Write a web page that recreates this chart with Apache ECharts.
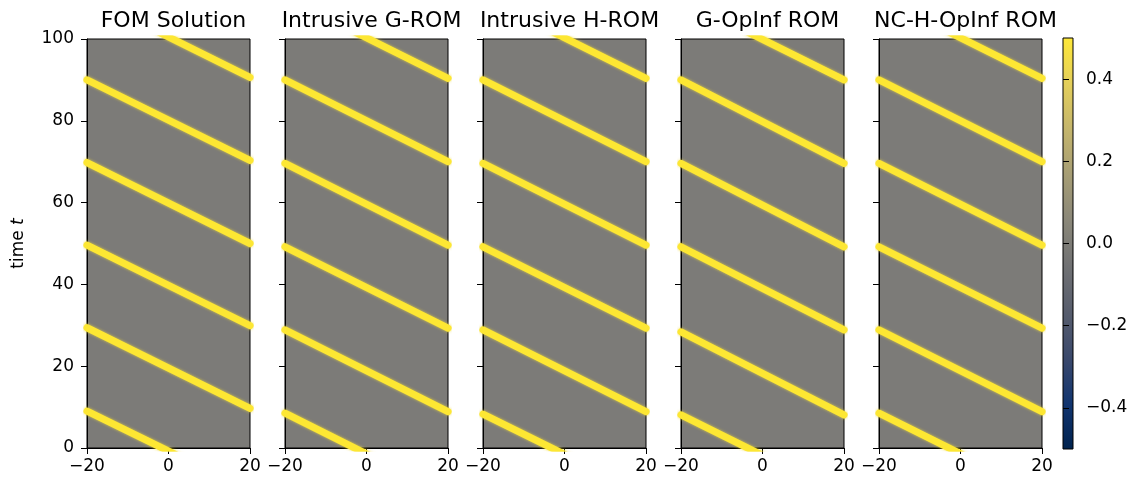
<!DOCTYPE html>
<html>
<head>
<meta charset="utf-8">
<script src="https://cdn.jsdelivr.net/npm/echarts@6/dist/echarts.min.js"></script>
<style>
  html, body { margin: 0; padding: 0; background: #fff; }
  #chart { width: 1139px; height: 482px; }
</style>
</head>
<body>
<div id="chart"></div>
<script>
// Panel titles and axis ticks
const panelTitles = ["FOM Solution", "Intrusive G-ROM", "Intrusive H-ROM", "G-OpInf ROM", "NC-H-OpInf ROM"];
const xTicks = [-20, 0, 20];
const yTicks = [0, 20, 40, 60, 80, 100];
const colorTicks = [-0.4, -0.2, 0, 0.2, 0.4];

// Stripe crests (value ~0.5): time t where each crest meets x = -20 and x = 20
const fomLeftT = [110.4, 90.0, 69.8, 49.6, 29.4, 9.0];
const fomRightT = [90.6, 70.3, 50.0, 29.9, 9.7, -10.5];
const gromLeftT = [110.2, 90.0, 69.6, 49.2, 28.9, 8.5];
const gromRightT = [90.4, 70.0, 49.6, 29.3, 8.9, -11.4];
const hromLeftT = [110.2, 90.0, 69.6, 49.2, 28.9, 8.3];
const hromRightT = [90.4, 70.0, 49.6, 29.3, 8.9, -11.4];
const gopinfLeftT = [109.8, 90.0, 69.6, 49.2, 28.4, 8.1];
const gopinfRightT = [90.0, 69.6, 49.2, 28.9, 8.1, -11.7];
const nchLeftT = [110.2, 90.0, 69.6, 49.2, 28.9, 8.5];
const nchRightT = [90.4, 70.0, 49.6, 29.3, 8.9, -11.3];

const leftT = [fomLeftT, gromLeftT, hromLeftT, gopinfLeftT, nchLeftT];
const rightT = [fomRightT, gromRightT, hromRightT, gopinfRightT, nchRightT];

// cividis colormap, bottom (-0.5) to top (0.5)
const cividis = ["#00224e", "#123570", "#3b496c", "#575d6d", "#707173",
                 "#8a8779", "#a69d75", "#c4b56c", "#e4cf5b", "#fee838"];

const FONT = "DejaVu Sans";
const TICK_FS = 17;
const minus = v => String(v).replace('-', '\u2212');

const panelLeft = [87, 285, 483, 681, 879];
const panelTop = 39, panelW = 163, panelH = 409;

var chart = echarts.init(document.getElementById("chart"));

let grids = [], xAxes = [], yAxes = [], series = [], titles = [];

for (let i = 0; i < 5; i++) {
    grids.push({
        left: panelLeft[i], top: panelTop, width: panelW, height: panelH,
        show: true, backgroundColor: '#7c7b78', borderColor: '#000', borderWidth: 1
    });
    xAxes.push({
        gridIndex: i, type: 'value', min: -20, max: 20, interval: 20,
        axisLine: { onZero: false, lineStyle: { color: '#000', width: 1 } },
        axisTick: { length: 6, lineStyle: { color: '#000' } },
        axisLabel: { fontFamily: FONT, fontSize: TICK_FS, color: '#000', margin: 10, formatter: minus },
        splitLine: { show: false }
    });
    yAxes.push({
        gridIndex: i, type: 'value', min: 0, max: 100, interval: 20,
        axisLine: { show: true, onZero: false, lineStyle: { color: '#000', width: 1 } },
        axisTick: { show: true, length: 6, lineStyle: { color: '#000' } },
        axisLabel: { show: i === 0, fontFamily: FONT, fontSize: TICK_FS, color: '#000', margin: 13 },
        splitLine: { show: false },
        name: i === 0 ? 'time {it|t}' : '',
        nameLocation: 'middle',
        nameGap: 60,
        nameTextStyle: {
            fontFamily: FONT, fontSize: TICK_FS, color: '#000',
            rich: { it: { fontFamily: FONT, fontSize: TICK_FS, fontStyle: 'italic', color: '#000' } }
        }
    });
    titles.push({
        text: panelTitles[i],
        left: panelLeft[i] + panelW / 2, top: 5, textAlign: 'center',
        textStyle: { fontFamily: FONT, fontSize: 22, fontWeight: 'normal', color: '#000' }
    });
    for (let k = 0; k < leftT[i].length; k++) {
        series.push({
            type: 'line', xAxisIndex: i, yAxisIndex: i, clip: true,
            symbol: 'none', silent: true,
            data: [[-20, leftT[i][k]], [20, rightT[i][k]]],
            lineStyle: {
                color: '#fde733', width: 7, cap: 'round',
                shadowColor: 'rgba(240, 220, 60, 0.85)', shadowBlur: 3
            }
        });
    }
}

// colorbar
grids.push({
    left: 1063, top: 38, width: 10, height: 411,
    show: true, borderColor: '#000', borderWidth: 1,
    backgroundColor: new echarts.graphic.LinearGradient(0, 1, 0, 0,
        cividis.map((c, j) => ({ offset: j / (cividis.length - 1), color: c })))
});
xAxes.push({ gridIndex: 5, type: 'value', show: false, min: 0, max: 1 });
yAxes.push({
    gridIndex: 5, type: 'value', position: 'right', min: -0.5, max: 0.5,
    axisLine: { show: false },
    axisTick: { show: true, length: 6, customValues: colorTicks, lineStyle: { color: '#000' } },
    axisLabel: {
        fontFamily: FONT, fontSize: TICK_FS, color: '#000', margin: 13,
        customValues: colorTicks,
        formatter: v => minus(Number(v).toFixed(1))
    },
    splitLine: { show: false }
});

var option = {
    backgroundColor: '#fff',
    animation: false,
    title: titles,
    grid: grids,
    xAxis: xAxes,
    yAxis: yAxes,
    series: series
};

chart.setOption(option);
</script>
</body>
</html>
